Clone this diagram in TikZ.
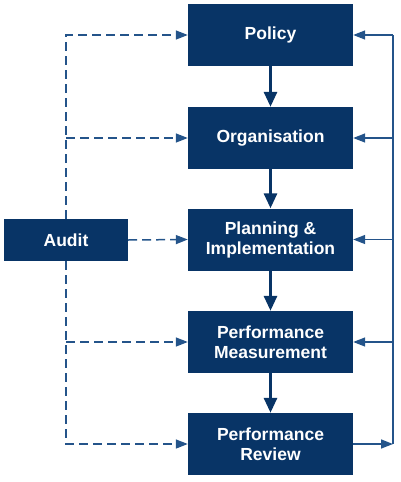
\documentclass[tikz,border=0pt]{standalone}
\usepackage{fontspec}
\setmainfont{Liberation Sans}
\usepackage{tikz}
\usepackage{xcolor}
\usetikzlibrary{arrows.meta, calc, positioning}

\definecolor{navy}{RGB}{8,52,102}
\definecolor{linkblue}{RGB}{36,84,138}

\begin{document}
\begin{tikzpicture}[x=1pt, y=-1pt,
    stage/.style={fill=navy, text=white, minimum width=165pt, minimum height=62pt,
      inner sep=2pt, align=center, font=\fontsize{17.5}{20}\selectfont\bfseries},
    flow/.style={navy, line width=3pt, -{Triangle[length=15pt, width=13pt]}},
    audline/.style={linkblue, line width=1.5pt, dash pattern=on 9pt off 5pt},
    fbline/.style={linkblue, line width=1.5pt}]
  \useasboundingbox (0,0) rectangle (400,482);
  \node[stage] (policy) at (270.5,35) {Policy};
  \node[stage] (org) at (270.5,138) {Organisation};
  \node[stage] (plan) at (270.5,239.5) {Planning \&\\Implementation};
  \node[stage] (meas) at (270.5,342) {Performance\\Measurement};
  \node[stage] (review) at (270.5,444) {Performance\\Review};
  \node[stage, minimum width=124pt, minimum height=42pt] (audit) at (66,240) {Audit};
  \coordinate (rail) at (393,0);

  \draw[flow] (policy) -- (org);
  \draw[flow] (org) -- (plan);
  \draw[flow] (plan) -- (meas);
  \draw[flow] (meas) -- (review);

  % audit links
  \draw[audline, -{Stealth[length=12pt, width=9pt, inset=0pt]}] (audit.north) |- (policy.west);
  \draw[audline, -{Stealth[length=12pt, width=9pt, inset=0pt]}] (audit.north |- org.west) -- (org.west);
  \draw[audline, -{Stealth[length=12pt, width=9pt, inset=0pt]}] (audit.east) -- (plan.west);
  \draw[audline, -{Stealth[length=12pt, width=9pt, inset=0pt]}] (audit.south |- meas.west) -- (meas.west);
  \draw[audline, -{Stealth[length=12pt, width=9pt, inset=0pt]}] (audit.south) |- (review.west);

  % feedback
  \draw[fbline, -{Stealth[length=12pt, width=9pt, inset=0pt]}] (review.east) -- (review.east -| rail);
  \draw[fbline] (review.east -| rail) -- (policy.east -| rail);
  \draw[fbline, -{Stealth[length=12pt, width=9pt, inset=0pt]}] (policy.east -| rail) -- (policy.east);
  \draw[fbline, -{Stealth[length=12pt, width=9pt, inset=0pt]}] (org.east -| rail) -- (org.east);
  \draw[fbline, -{Stealth[length=12pt, width=9pt, inset=0pt]}] (plan.east -| rail) -- (plan.east);
  \draw[fbline, -{Stealth[length=12pt, width=9pt, inset=0pt]}] (meas.east -| rail) -- (meas.east);
\end{tikzpicture}
\end{document}
